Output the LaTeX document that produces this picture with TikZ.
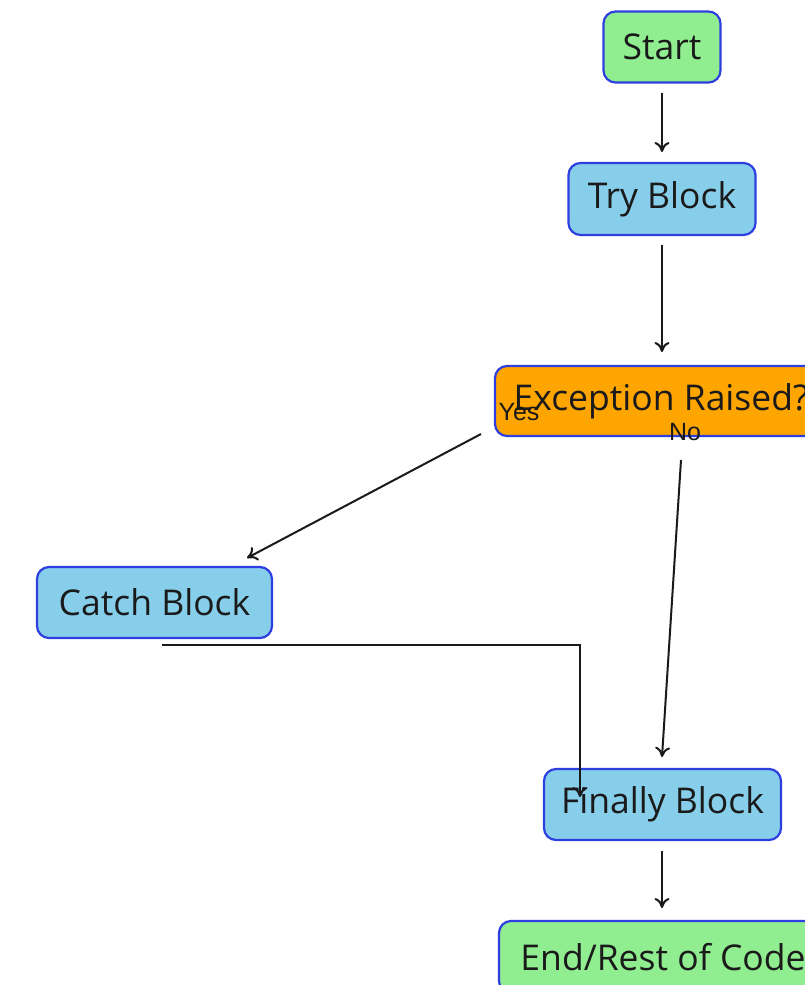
\documentclass[tikz,border=0pt]{standalone}
\usepackage{fontspec}
\setmainfont{Open Sans}
\newfontfamily\labelfont{Liberation Sans}
\usetikzlibrary{arrows.meta}
\definecolor{edgeblue}{HTML}{2E3FE0}
\definecolor{boxblue}{HTML}{87CEEB}
\definecolor{boxgreen}{HTML}{90EE90}
\definecolor{boxorange}{HTML}{FFA500}
\definecolor{ink}{HTML}{1A1A1A}
\tikzset{
  blockbox/.style={draw=edgeblue, line width=2.2pt, rounded corners=12pt,
    fill=boxblue, text=ink, inner sep=0pt,
    font=\fontsize{35.5}{40}\selectfont},
  termbox/.style={blockbox, fill=boxgreen},
  decisionbox/.style={blockbox, fill=boxorange},
  flow/.style={draw=ink, line width=2pt, -{To[length=10pt,width=15pt]}},
  edgelabel/.style={text=ink, inner sep=0pt, font=\labelfont\fontsize{25}{28}\selectfont}
}
\begin{document}
\begin{tikzpicture}[x=1pt, y=-1pt]
  \useasboundingbox[fill=white] (0,0) rectangle (804,985);

  % process steps
  \node[termbox, minimum width=117pt, minimum height=71pt] (start) at (662,47) {Start};
  \node[blockbox, minimum width=187pt, minimum height=72pt] (try) at (662,199) {Try Block};
  \node[decisionbox, minimum width=332pt, minimum height=70pt] (exc) at (661,401) {Exception Raised?};
  \node[blockbox, minimum width=235pt, minimum height=71pt] (catch) at (154.5,602.5) {Catch Block};
  \node[blockbox, minimum width=237pt, minimum height=71pt] (fin) at (662.5,804.5) {Finally Block};
  \node[termbox, minimum width=328pt, minimum height=72pt] (end) at (663,957) {End/Rest of Code};

  % connector end points
  \coordinate (s1) at (662,93);   \coordinate (s2) at (662,152);
  \coordinate (t1) at (662,245);  \coordinate (t2) at (662,352);
  \coordinate (y1) at (481,434);  \coordinate (y2) at (247,558);
  \coordinate (n1) at (681,460);  \coordinate (n2) at (662,757);
  \coordinate (c1) at (162,645);  \coordinate (c2) at (580,645);
  \coordinate (c3) at (580,797);
  \coordinate (f1) at (662,851);  \coordinate (f2) at (662,908);

  \draw[flow] (s1) -- (s2);
  \draw[flow] (t1) -- (t2);
  \draw[flow] (y1) -- (y2);
  \draw[flow] (n1) -- (n2);
  \draw[flow] (c1) -- (c2) -- (c3);
  \draw[flow] (f1) -- (f2);

  % branch labels
  \node[edgelabel] (yes) at (519,412) {Yes};
  \node[edgelabel] (no) at (685,432) {No};
\end{tikzpicture}
\end{document}
